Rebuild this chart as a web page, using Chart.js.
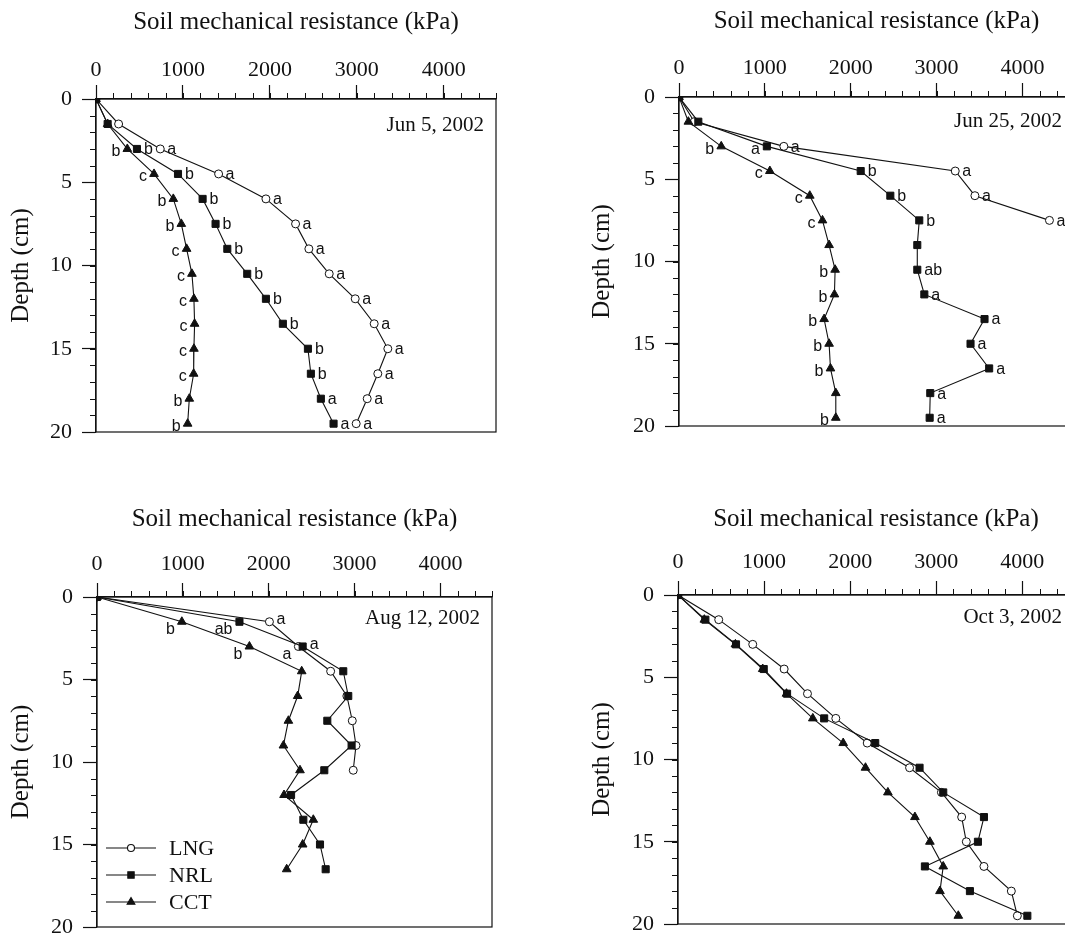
<!DOCTYPE html>
<html>
<head>
<meta charset="utf-8">
<script src="https://cdn.jsdelivr.net/npm/chart.js@4.4.1/dist/chart.umd.min.js"></script>
<style>
html, body { margin: 0; padding: 0; background: #fff; overflow: hidden; width: 1065px; height: 934px; }
canvas { position: absolute; }
</style>
</head>
<body>
<canvas id="c1" width="530" height="470" style="left:0px;top:0px"></canvas>
<canvas id="c2" width="545" height="470" style="left:545px;top:0px"></canvas>
<canvas id="c3" width="530" height="480" style="left:0px;top:480px"></canvas>
<canvas id="c4" width="545" height="480" style="left:545px;top:480px"></canvas>
<script>
const depths = [0, 1.5, 3, 4.5, 6, 7.5, 9, 10.5, 12, 13.5, 15, 16.5, 18, 19.5];
const seriesNames = ['LNG', 'NRL', 'CCT'];
const xTickValues = [0, 1000, 2000, 3000, 4000];
const yTickValues = [0, 5, 10, 15, 20];

// Jun 5, 2002
const jun5LNG = [0, 260, 739, 1410, 1954, 2295, 2448, 2682, 2981, 3199, 3356, 3241, 3119, 2992];
const jun5NRL = [0, 134, 471, 943, 1226, 1375, 1510, 1739, 1954, 2149, 2437, 2471, 2586, 2732];
const jun5CCT = [0, 134, 360, 667, 889, 981, 1042, 1103, 1126, 1134, 1126, 1123, 1073, 1054];
const jun5LNGLetters = ['', '', 'a', 'a', 'a', 'a', 'a', 'a', 'a', 'a', 'a', 'a', 'a', 'a'];
const jun5NRLLetters = ['', '', 'b', 'b', 'b', 'b', 'b', 'b', 'b', 'b', 'b', 'b', 'a', 'a'];
const jun5CCTLetters = ['', '', 'b', 'c', 'b', 'b', 'c', 'c', 'c', 'c', 'c', 'c', 'b', 'b'];

// Jun 25, 2002
const jun25LNG = [0, 178, 1221, 3217, 3446, 4314];
const jun25NRL = [0, 225, 1023, 2116, 2461, 2798, 2775, 2775, 2857, 3558, 3395, 3612, 2926, 2919];
const jun25CCT = [0, 109, 492, 1058, 1523, 1671, 1748, 1818, 1810, 1690, 1748, 1764, 1826, 1826];
const jun25LNGLetters = ['', '', 'a', 'a', 'a', 'a'];
const jun25NRLLetters = ['', '', 'a', 'b', 'b', 'b', '', 'ab', 'a', 'a', 'a', 'a', 'a', 'a'];
const jun25CCTLetters = ['', '', 'b', 'c', 'c', 'c', '', 'b', 'b', 'b', 'b', 'b', '', 'b'];

// Aug 12, 2002
const aug12LNG = [0, 2008, 2345, 2721, 2910, 2973, 3016, 2984];
const aug12NRL = [0, 1659, 2395, 2868, 2926, 2682, 2965, 2647, 2260, 2403, 2597, 2663];
const aug12CCT = [0, 988, 1775, 2384, 2337, 2229, 2171, 2364, 2178, 2519, 2395, 2209];
const aug12LNGLetters = ['', 'a', 'a'];
const aug12NRLLetters = ['', 'ab', 'a'];
const aug12CCTLetters = ['', 'b', 'b'];

// Oct 3, 2002
const oct3LNG = [0, 473, 868, 1233, 1504, 1833, 2198, 2690, 3060, 3295, 3349, 3554, 3872, 3942];
const oct3NRL = [0, 318, 674, 996, 1267, 1698, 2291, 2806, 3081, 3554, 3484, 2868, 3391, 4058];
const oct3CCT = [0, 306, 667, 984, 1260, 1566, 1919, 2178, 2438, 2752, 2926, 3081, 3043, 3256];

const xTitle = 'Soil mechanical resistance (kPa)';
const yTitle = 'Depth (cm)';
const ink = '#111';
const serif = '"Liberation Serif", "Times New Roman", serif';
const sans = '"Liberation Sans", Arial, sans-serif';

Chart.defaults.font.family = serif;
Chart.defaults.color = ink;
Chart.defaults.animation = false;

const marker = {
  LNG: { pointStyle: 'circle', pointRadius: 4, pointBackgroundColor: '#fff' },
  NRL: { pointStyle: 'rect', pointRadius: 5, pointBackgroundColor: ink },
  CCT: { pointStyle: 'triangle', pointRadius: 5, pointBackgroundColor: ink }
};
const drawOrder = { LNG: 3, NRL: 1, CCT: 2 };
const letterSide = { LNG: 'r', NRL: 'r', CCT: 'l' };

// frame, minor ticks, date, letters and legend
const extras = {
  id: 'extras',
  afterDatasetsDraw(chart) {
    const p = chart.config.options.plugins.extras;
    const { ctx } = chart;
    ctx.save();
    ctx.font = '16px ' + sans;
    ctx.fillStyle = ink;
    ctx.textBaseline = 'middle';
    chart.data.datasets.forEach((ds, i) => {
      const letters = p.letters[ds.label];
      if (!letters) return;
      const pts = chart.getDatasetMeta(i).data;
      letters.forEach((t, j) => {
        if (!t || !pts[j]) return;
        const side = (p.sides && p.sides[ds.label + j]) || letterSide[ds.label];
        const dy = side === 'l' ? p.dyLeft : p.dyRight;
        ctx.textAlign = side === 'l' ? 'right' : 'left';
        ctx.fillText(t, pts[j].x + (side === 'l' ? -7 : 7), pts[j].y + dy);
      });
    });
    ctx.restore();
  },
  afterDraw(chart) {
    const p = chart.config.options.plugins.extras;
    const { ctx, chartArea: a, scales: { x, y } } = chart;
    ctx.save();
    ctx.strokeStyle = ink;
    ctx.lineWidth = 1.2;
    ctx.strokeRect(a.left, a.top, a.right - a.left, a.bottom - a.top);
    ctx.lineWidth = 1;
    ctx.beginPath();
    for (let v = 0; v <= x.max; v += 200) {
      const px = Math.round(x.getPixelForValue(v)) + 0.5;
      ctx.moveTo(px, a.top);
      ctx.lineTo(px, a.top - 6);
    }
    for (let v = 0; v <= y.max; v += 1) {
      const py = Math.round(y.getPixelForValue(v)) + 0.5;
      ctx.moveTo(a.left, py);
      ctx.lineTo(a.left - 6, py);
    }
    ctx.stroke();

    ctx.font = '21px ' + serif;
    ctx.fillStyle = ink;
    ctx.textAlign = 'right';
    ctx.textBaseline = 'middle';
    ctx.fillText(p.date, a.right - 12, a.top + p.dateDy);

    if (p.legend) {
      seriesNames.forEach((name, k) => {
        const ds = chart.data.datasets.find(d => d.label === name);
        const ly = a.bottom - 79 + k * 27;
        ctx.lineWidth = 1.1;
        ctx.beginPath();
        ctx.moveTo(a.left + 9, ly);
        ctx.lineTo(a.left + 59, ly);
        ctx.stroke();
        ctx.fillStyle = ds.pointBackgroundColor;
        Chart.helpers.drawPoint(ctx, { pointStyle: ds.pointStyle, radius: ds.pointRadius - 0.5, borderWidth: 1, rotation: 0 }, a.left + 34, ly);
        ctx.fillStyle = ink;
        ctx.textAlign = 'left';
        ctx.font = '22px ' + serif;
        ctx.fillText(name, a.left + 72, ly + 1);
      });
    }
    ctx.restore();
  }
};

function series(name, values) {
  return Object.assign({
    label: name,
    data: values.map((v, i) => ({ x: v, y: depths[i] })),
    showLine: true,
    borderColor: ink,
    borderWidth: 1.1,
    pointBorderColor: ink,
    pointBorderWidth: 1,
    tension: 0,
    order: drawOrder[name]
  }, marker[name]);
}

function panel(id, box, area, s) {
  const el = document.getElementById(id);
  new Chart(el, {
    type: 'scatter',
    data: { datasets: [series('LNG', s.LNG), series('NRL', s.NRL), series('CCT', s.CCT)] },
    options: {
      responsive: false,
      layout: {
        padding: {
          left: s.padLeft,
          top: 0,
          right: box.left + el.width - area.right,
          bottom: box.top + el.height - area.bottom
        }
      },
      plugins: {
        legend: { display: false },
        tooltip: { enabled: false },
        extras: s.extras
      },
      scales: {
        x: {
          type: 'linear',
          position: 'top',
          min: 0,
          max: 4600,
          afterBuildTicks: sc => { sc.ticks = xTickValues.map(v => ({ value: v })); },
          afterFit: sc => { sc.height = area.top - box.top; },
          ticks: { padding: s.tickPad, font: { size: 22 }, color: ink, maxRotation: 0, autoSkip: false, callback: v => String(v) },
          grid: { drawOnChartArea: false, tickLength: 14, color: ink, tickWidth: 1.2 },
          border: { color: ink, width: 1.2 },
          title: { display: true, text: xTitle, font: { size: 25 }, color: ink, padding: { top: s.titlePad, bottom: 0 } }
        },
        y: {
          type: 'linear',
          reverse: true,
          min: 0,
          max: 20,
          afterBuildTicks: sc => { sc.ticks = yTickValues.map(v => ({ value: v })); },
          afterFit: sc => { sc.width = area.left - box.left - s.padLeft; },
          ticks: { padding: 10, font: { size: 22 }, color: ink, autoSkip: false, callback: v => String(v) },
          grid: { drawOnChartArea: false, tickLength: 14, color: ink, tickWidth: 1.2 },
          border: { color: ink, width: 1.2 },
          title: { display: true, text: yTitle, font: { size: 25 }, color: ink, padding: { top: 6, bottom: 0 } }
        }
      }
    },
    plugins: [extras]
  });
}

panel('c1', { left: 0, top: 0 }, { left: 96, top: 99, right: 496, bottom: 432 }, {
  LNG: jun5LNG, NRL: jun5NRL, CCT: jun5CCT, padLeft: 0, titlePad: 7, tickPad: 2,
  extras: { date: 'Jun 5, 2002', dateDy: 26, dyLeft: 3, dyRight: 1,
    letters: { LNG: jun5LNGLetters, NRL: jun5NRLLetters, CCT: jun5CCTLetters } }
});

panel('c2', { left: 545, top: 0 }, { left: 679, top: 97, right: 1074, bottom: 426 }, {
  LNG: jun25LNG, NRL: jun25NRL, CCT: jun25CCT, padLeft: 36, titlePad: 6, tickPad: 2,
  extras: { date: 'Jun 25, 2002', dateDy: 24, dyLeft: 3, dyRight: 1, sides: { NRL2: 'l' },
    letters: { LNG: jun25LNGLetters, NRL: jun25NRLLetters, CCT: jun25CCTLetters } }
});

panel('c3', { left: 0, top: 480 }, { left: 97, top: 597, right: 492, bottom: 927 }, {
  LNG: aug12LNG, NRL: aug12NRL, CCT: aug12CCT, padLeft: 0, titlePad: 24, tickPad: 6,
  extras: { date: 'Aug 12, 2002', dateDy: 21, dyLeft: 8, dyRight: -2, legend: true,
    sides: { LNG2: 'l', NRL1: 'l', NRL2: 'r' },
    letters: { LNG: aug12LNGLetters, NRL: aug12NRLLetters, CCT: aug12CCTLetters } }
});

panel('c4', { left: 545, top: 480 }, { left: 678, top: 595, right: 1074, bottom: 924 }, {
  LNG: oct3LNG, NRL: oct3NRL, CCT: oct3CCT, padLeft: 36, titlePad: 24, tickPad: 6,
  extras: { date: 'Oct 3, 2002', dateDy: 22, dyLeft: 3, dyRight: 1, letters: {} }
});
</script>
</body>
</html>
